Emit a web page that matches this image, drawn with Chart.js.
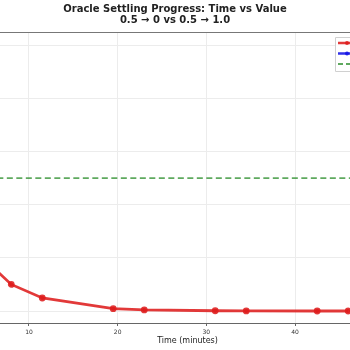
<!DOCTYPE html>
<html>
<head>
<meta charset="utf-8">
<script src="https://cdn.jsdelivr.net/npm/chart.js@4/dist/chart.umd.min.js"></script>
<style>
html, body { margin: 0; padding: 0; background: #fff; overflow: hidden; }
#wrap { width: 350px; height: 350px; }
</style>
</head>
<body>
<div id="wrap"><canvas id="settleChart" width="350" height="350"></canvas></div>
<script>
// values
const times = [0, 4.5, 8, 11.5, 19.5, 23, 31, 34.5, 42.5, 46]
const toZero = [0.5, 0.21, 0.10, 0.049, 0.009, 0.004, 0.001, 0.0005, 0.0002, 0.0001]
const toOneTimes = [0, 4.5]
const toOne = [0.5, 0.79]
const thresholdTimes = [0, 50]
const threshold = 0.5
const xTicks = [10, 20, 30, 40]
const yTicks = [0, 0.2, 0.4, 0.6, 0.8, 1.0]
const titleLines = ['Oracle Settling Progress: Time vs Value', '0.5 → 0 vs 0.5 → 1.0']
const seriesLabels = ['0.5 → 0', '0.5 → 1.0', 'Threshold 0.5']
const xLabel = 'Time (minutes)'

const red = 'rgba(222, 30, 30, 0.88)'
const blue = 'rgba(20, 20, 230, 0.88)'
const green = 'rgba(40, 140, 40, 0.75)'

let toPoints = (xs, ys) => xs.map((x, i) => ({x: x, y: ys[i]}))

// top spine, x label and the cut-off legend box
const extras = {
    id: 'extras',
    afterDraw(chart) {
        let c = chart.ctx
        let a = chart.chartArea
        c.save()
        c.strokeStyle = '#777'
        c.lineWidth = 1
        c.beginPath()
        c.moveTo(a.left, a.top + 0.5)
        c.lineTo(a.right, a.top + 0.5)
        c.stroke()

        c.fillStyle = '#222'
        c.font = '8px "DejaVu Sans"'
        c.textAlign = 'center'
        c.textBaseline = 'middle'
        c.fillText(xLabel, 187.5, 341)

        let lx = 335, ly = 37
        c.fillStyle = 'rgba(255,255,255,0.9)'
        c.strokeStyle = '#d0d0d0'
        c.beginPath()
        c.rect(lx + 0.5, ly + 0.5, 80, 34)
        c.fill()
        c.stroke()
        let colors = [red, blue, green]
        for (let i = 0; i < 3; i++) {
            let y = ly + 6 + i * 10.5
            c.strokeStyle = colors[i]
            c.lineWidth = i == 2 ? 1.8 : 2.5
            c.setLineDash(i == 2 ? [5, 3] : [])
            c.beginPath()
            c.moveTo(lx + 3, y)
            c.lineTo(lx + 22, y)
            c.stroke()
            if (i < 2) {
                c.fillStyle = colors[i]
                c.beginPath()
                c.arc(lx + 12, y, 2, 0, Math.PI * 2)
                c.fill()
            }
            c.setLineDash([])
            c.fillStyle = '#222'
            c.textAlign = 'left'
            c.font = '7px "DejaVu Sans"'
            c.fillText(seriesLabels[i], lx + 27, y)
        }
        c.restore()
    }
}

let ctx = document.getElementById('settleChart')

const chart = new Chart(ctx, {
    type: 'line',
    data: {
        datasets: [{
            label: seriesLabels[0],
            data: toPoints(times, toZero),
            borderColor: red,
            backgroundColor: red,
            borderWidth: 2.8,
            pointRadius: 2,
            pointHoverRadius: 2,
            tension: 0
        }, {
            label: seriesLabels[1],
            data: toPoints(toOneTimes, toOne),
            borderColor: blue,
            backgroundColor: blue,
            borderWidth: 2.8,
            pointRadius: 2,
            tension: 0
        }, {
            label: seriesLabels[2],
            data: toPoints(thresholdTimes, thresholdTimes.map(() => threshold)),
            borderColor: green,
            borderWidth: 1.8,
            borderDash: [6, 3.5],
            pointRadius: 0,
            tension: 0
        }]
    },
    options: {
        responsive: false,
        devicePixelRatio: 1,
        animation: false,
        layout: { padding: 0, autoPadding: false },
        plugins: {
            legend: { display: false },
            tooltip: { enabled: false },
            title: {
                display: true,
                text: titleLines,
                color: '#222',
                font: { family: '"DejaVu Sans"', size: 10, weight: 'bold', lineHeight: 1.1 },
                padding: { top: 4, bottom: 6 }
            }
        },
        scales: {
            x: {
                type: 'linear',
                min: 6.73,
                max: 46.2,
                afterBuildTicks: s => { s.ticks = xTicks.map(v => ({value: v})) },
                afterFit: s => { s.height = 27 },
                grid: { color: '#ececec', tickColor: '#666', tickLength: 3 },
                border: { color: '#666', width: 1 },
                ticks: {
                    color: '#333',
                    padding: 3,
                    font: { family: '"DejaVu Sans"', size: 6 }
                }
            },
            y: {
                min: -0.045,
                max: 1.049,
                afterBuildTicks: s => { s.ticks = yTicks.map(v => ({value: v})) },
                grid: { color: '#ececec', drawTicks: false },
                border: { display: false },
                ticks: { display: false }
            }
        }
    },
    plugins: [extras]
})
</script>
</body>
</html>
